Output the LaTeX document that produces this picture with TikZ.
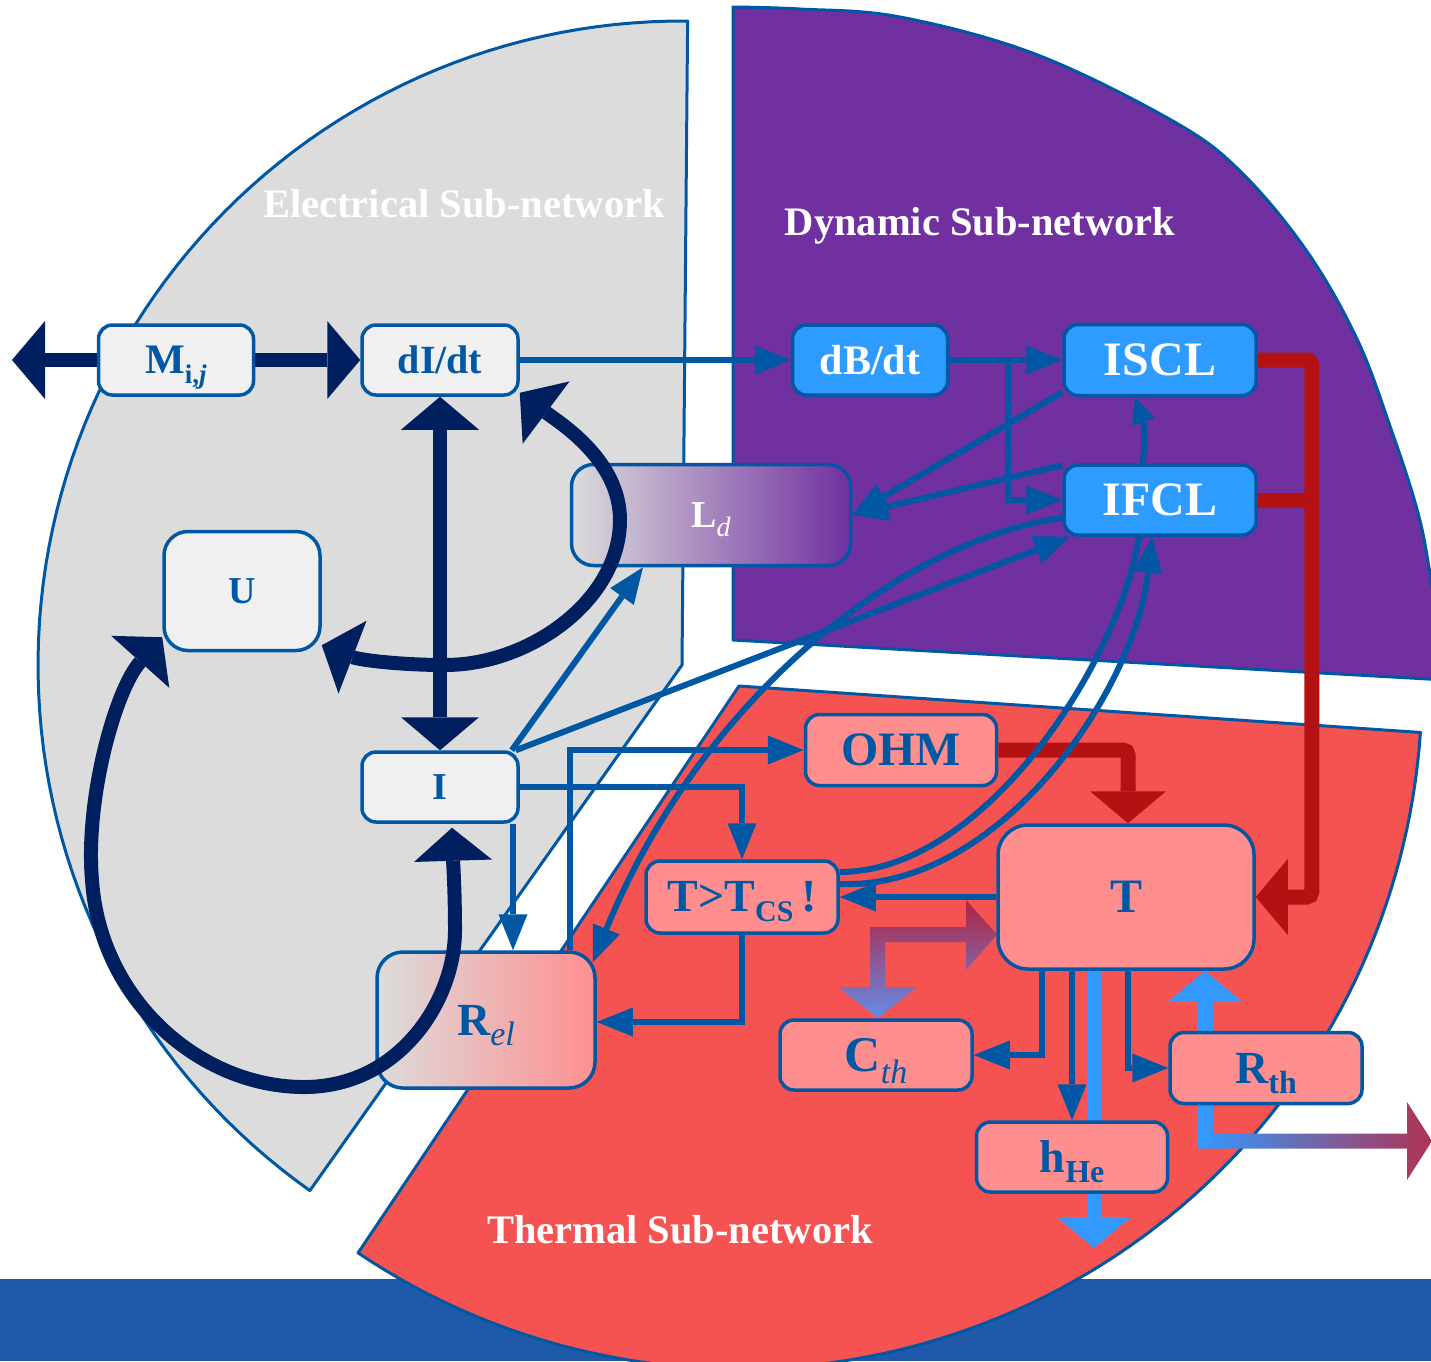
\documentclass[tikz,border=0pt]{standalone}
\usepackage{fontspec}
\setmainfont{Liberation Serif}
\usetikzlibrary{arrows.meta}

\definecolor{edgeblue}{RGB}{0,87,164}
\definecolor{elecgray}{RGB}{220,220,220}
\definecolor{dynpurple}{RGB}{112,48,160}
\definecolor{thermred}{RGB}{245,82,82}
\definecolor{boxgray}{RGB}{240,240,240}
\definecolor{boxblue}{RGB}{46,156,255}
\definecolor{boxpink}{RGB}{255,143,143}
\definecolor{navy}{RGB}{0,31,95}
\definecolor{darkred}{RGB}{180,18,18}
\definecolor{skyblue}{RGB}{51,153,255}
\definecolor{barblue}{RGB}{31,90,170}
\definecolor{crimsonA}{RGB}{178,34,62}
\definecolor{crimsonB}{RGB}{176,50,84}
\definecolor{cornflower}{RGB}{100,140,232}

\newcommand\fsz[1]{\fontsize{#1}{#1}\selectfont}
% lowered index: drop, size, text
\newcommand\lsub[3]{\raisebox{-#1}[0pt][0pt]{\fsz{#2}#3}}

\pgfdeclarelayer{bg}
\pgfdeclarelayer{mid}
\pgfdeclarelayer{front}
\pgfsetlayers{bg,mid,main,front}

\tikzset{
  navytip/.tip={Triangle[length=33pt,width=78pt,line width=0pt]},
  redtip/.tip={Triangle[length=32pt,width=76pt,line width=0pt]},
  skytip/.tip={Triangle[length=31pt,width=74pt,line width=0pt]},
  bluetip/.tip={Triangle[length=36pt,width=29pt,line width=0pt]},
  smalltip/.tip={Triangle[length=26pt,width=24pt,line width=0pt]},
  navyline/.style={draw=navy, line width=14pt},
  redline/.style={draw=darkred, line width=15pt, rounded corners=5pt},
  skyline/.style={draw=skyblue, line width=15pt},
  blueline/.style={draw=edgeblue, line width=6pt},
  region/.style={draw=edgeblue, line width=3pt, line join=round},
  hdr/.style={text=white, font=\bfseries\fsz{40.5}, inner sep=0pt, anchor=base},
  box/.style={draw=edgeblue, line width=3.5pt, rounded corners=14pt, inner sep=0pt,
              font=\bfseries, text=edgeblue},
  graybox/.style={box, fill=boxgray},
  bluebox/.style={box, fill=boxblue, text=white},
  pinkbox/.style={box, fill=boxpink},
}

\begin{document}
\begin{tikzpicture}[x=1pt,y=-1pt]
\useasboundingbox (0,0) rectangle (1431,1361);

% ---------- sub-network sectors ----------
\begin{pgfonlayer}{bg}
  \fill[barblue] (0,1279) rectangle (1431,1361);
  \path[region, fill=elecgray] (682,665)
    -- plot[domain=125.3:270.5, samples=90] ({682+644*cos(\x)},{665+644*sin(\x)}) -- cycle;
  \path[region, fill=dynpurple] (733,640)
    -- plot[smooth, tension=0.6] coordinates {(733,7) (800,9) (900,17) (1035,54) (1171,120)
       (1239,170) (1306,250) (1357,339) (1391,429) (1418,513) (1431,580) (1446,680)} -- cycle;
  \path[region, fill=thermred] (739,686)
    -- plot[domain=3.9:123.9, samples=90] ({739+683*cos(\x)},{686+683*sin(\x)}) -- cycle;
  \node[hdr] (hElec) at (464,217) {Electrical Sub-network};
  \node[hdr] (hDyn) at (980,235) {Dynamic Sub-network};
  \node[hdr] (hTherm) at (680,1243) {Thermal Sub-network};
\end{pgfonlayer}

% ---------- blocks ----------
\node[graybox, minimum width=155pt, minimum height=70pt] (M) at (176,360)
  {\fsz{42}M\lsub{10pt}{27}{i,\textit{j}}};
\node[graybox, minimum width=156pt, minimum height=70pt] (dIdt) at (440,360) {\fsz{40}dI/dt};
\node[bluebox, minimum width=155pt, minimum height=70pt] (dBdt) at (870,360) {\fsz{42}dB/dt};
\node[bluebox, minimum width=192pt, minimum height=71pt] (ISCL) at (1160,360) {\fsz{48}ISCL};
\node[bluebox, minimum width=192pt, minimum height=70pt] (IFCL) at (1160,500) {\fsz{48}IFCL};
\node[box, left color=elecgray, right color=dynpurple, text=white, rounded corners=22pt,
      minimum width=279pt, minimum height=101pt] (Ld) at (711,515)
  {\fsz{38}L\lsub{9pt}{28}{\mdseries\itshape d}};
\node[graybox, rounded corners=24pt, minimum width=156pt, minimum height=119pt] (U) at (242,591) {\fsz{38}U};
\node[graybox, minimum width=156pt, minimum height=70pt] (I) at (440,787) {\fsz{38}I};
\node[pinkbox, minimum width=191pt, minimum height=71pt] (OHM) at (901,750) {\fsz{48}OHM};
\node[pinkbox, minimum width=192pt, minimum height=72pt] (Tcs) at (742,897)
  {\fsz{46}T>T\lsub{10pt}{30}{CS}\,!};
\node[pinkbox, rounded corners=30pt, minimum width=256pt, minimum height=144pt] (T) at (1126,897) {\fsz{48}T};
\node[box, left color=elecgray, right color=boxpink, rounded corners=26pt,
      minimum width=218pt, minimum height=136pt] (Rel) at (486,1020)
  {\fsz{46}R\lsub{10pt}{34}{\mdseries\itshape el}};
\node[pinkbox, minimum width=192pt, minimum height=70pt] (Cth) at (876,1055)
  {\fsz{50}C\lsub{12pt}{34}{\mdseries\itshape th}};
\node[pinkbox, minimum width=192pt, minimum height=71pt] (Rth) at (1266,1068)
  {\fsz{46}R\lsub{10pt}{32}{th}};
\node[pinkbox, minimum width=191pt, minimum height=70pt] (hHe) at (1072,1157)
  {\fsz{46}h\lsub{10pt}{32}{He}};

\coordinate (mout) at (12,360);
\coordinate (split) at (1008,360);
\coordinate (redbus) at (1312,500);
\coordinate (heout) at (1094,1248);
\coordinate (rthbend) at (1205,1141);

% ---------- heat-flow arrows behind the blocks ----------
\begin{pgfonlayer}{mid}
  \shade[top color=crimsonA, bottom color=cornflower]
    (870,927) -- (966,927) -- (966,900) -- (997,934.5) -- (966,970) -- (966,942)
    -- (885,942) -- (885,987) -- (917,987) -- (878,1018) -- (838,987) -- (870,987) -- cycle;
  \shade[left color=skyblue, right color=crimsonB]
    (1197.5,1133.5) -- (1407,1133.5) -- (1407,1102) -- (1432,1141) -- (1407,1180)
    -- (1407,1148.5) -- (1197.5,1148.5) -- cycle;
  \draw[skyline, -skytip] ([xshift=-32pt]T.south) -- (heout);
  \draw[skyline, -skytip] (rthbend) -- ([xshift=79pt]T.south);
\end{pgfonlayer}

% ---------- couplings ----------
\begin{pgfonlayer}{front}
  % thermal drive
  \draw[redline, -redtip] (OHM.east) -| ([xshift=2pt]T.north);
  \draw[redline, -redtip] (ISCL.east) -| ([xshift=56pt]T.east) -- (T.east);
  \draw[redline] (IFCL.east) -- (redbus);

  % signal links
  \draw[blueline, -bluetip] (dIdt.east) -- (dBdt.west);
  \draw[blueline, -bluetip] (dBdt.east) -- (ISCL.west);
  \draw[blueline, -bluetip] (split) |- (IFCL.west);
  \draw[blueline, -bluetip] ([yshift=5pt]ISCL.south west) -- (Ld.east);
  \draw[blueline, -bluetip] ([yshift=-2pt]IFCL.north west) -- (Ld.east);
  \draw[blueline, -smalltip] ([xshift=-17pt]IFCL.north) to[bend right=12] ([xshift=-25pt]ISCL.south);
  \draw[blueline, -bluetip] ([xshift=-8pt]I.north east) -- ([xshift=-68pt]Ld.south);
  \draw[blueline, -bluetip] ([xshift=-4pt]I.north east) -- ([xshift=8pt]IFCL.south west);
  \draw[blueline, -bluetip] ([yshift=-18pt]IFCL.west) .. controls (900,540) and (700,700)
    .. ([xshift=-4pt,yshift=-12pt]Rel.north east);
  \draw[blueline] ([xshift=-21pt]IFCL.south) .. controls (1120,660) and (985,872)
    .. ([yshift=25pt]Tcs.east);
  \draw[blueline, -bluetip] ([yshift=13pt]Tcs.east) .. controls (1000,890) and (1135,690)
    .. ([xshift=-8pt]IFCL.south);
  \draw[blueline, -bluetip] ([xshift=73pt]I.south) -- ([xshift=27pt]Rel.north);
  \draw[blueline, -bluetip] (I.east) -| (Tcs.north);
  \draw[blueline, -bluetip] ([xshift=84pt]Rel.north) |- (OHM.west);
  \draw[blueline, -bluetip] (T.west) -- (Tcs.east);
  \draw[blueline, -bluetip] (Tcs.south) |- ([yshift=-2pt]Rel.east);
  \draw[blueline, -bluetip] ([xshift=-84pt]T.south) |- (Cth.east);
  \draw[blueline, -bluetip] ([xshift=-54pt]T.south) -- (hHe.north);
  \draw[blueline, -bluetip] ([xshift=2pt]T.south) |- (Rth.west);

  % electrical loop
  \draw[navyline, -navytip] (M.west) -- (mout);
  \draw[navyline, -navytip] (M.east) -- (dIdt.west);
  \draw[navyline, navytip-navytip] (dIdt.south) -- (I.north);
  \draw[navyline, navytip-navytip] ([yshift=4pt]dIdt.south east)
    .. controls (560,423) and (620,460) .. (620,520)
    .. controls (620,600) and (530,665) .. (445,665)
    .. controls (400,665) and (360,660) .. ([yshift=7pt]U.south east);
  \draw[navyline, navytip-navytip] ([yshift=15pt]U.south west)
    .. controls (115,690) and (85,800) .. (92,880)
    .. controls (100,1000) and (200,1087) .. (304,1087)
    .. controls (400,1087) and (455,1000) .. (455,930)
    .. controls (455,890) and (453,860) .. ([xshift=12pt,yshift=-4pt]I.south);
\end{pgfonlayer}
\end{tikzpicture}
\end{document}
